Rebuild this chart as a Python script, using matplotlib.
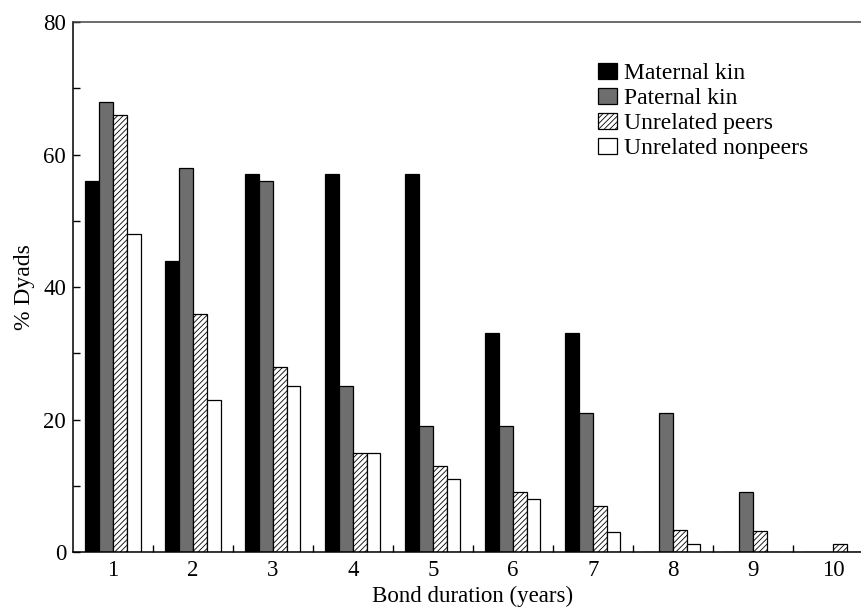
import matplotlib
matplotlib.use('Agg')
import matplotlib.pyplot as plt
import numpy as np

plt.rcParams['font.family'] = ['Liberation Serif', 'DejaVu Serif']
plt.rcParams['hatch.color'] = '#555555'
plt.rcParams['hatch.linewidth'] = 0.6

years = [1, 2, 3, 4, 5, 6, 7, 8, 9, 10]
maternal = [56, 44, 57, 57, 57, 33, 33, 0, 0, 0]
paternal = [68, 58, 56, 25, 19, 19, 21, 21, 9, 0]
peers = [66, 36, 28, 15, 13, 9, 7, 3.3, 3.2, 1.2]
nonpeers = [48, 23, 25, 15, 11, 8, 3, 1.2, 0, 0]

series = [
    ('Maternal kin', maternal, 'black', ''),
    ('Paternal kin', paternal, '#6e6e6e', ''),
    ('Unrelated peers', peers, 'white', '//////'),
    ('Unrelated nonpeers', nonpeers, 'white', ''),
]

fig = plt.figure(figsize=(8.61, 6.13), dpi=100)
# axes runs a little past the right edge, as in the cropped original
ax = fig.add_axes([0.0848, 0.0995, 0.929, 0.8645])

x = np.arange(len(years)) + 1
w = 0.172
for i, (name, vals, col, hatch) in enumerate(series):
    ax.bar(x + (i - 1.5) * w, vals, width=w, color=col, edgecolor='black',
           linewidth=0.9, hatch=hatch, label=name)

ax.set_xlim(0.5, 10.5)
ax.set_ylim(0, 80)
ax.set_yticks([0, 20, 40, 60, 80])
ax.set_yticks([10, 30, 50, 70], minor=True)
ax.set_xticks(x)
ax.set_xticklabels([str(v) for v in years])
ax.set_xticks(np.arange(1.5, 10, 1), minor=True)
ax.tick_params(axis='x', which='major', length=0, pad=6, labelsize=16.5)
ax.tick_params(axis='x', which='minor', direction='in', length=5, width=1)
ax.tick_params(axis='y', which='both', direction='in', length=5, width=1, labelsize=16.5)
ax.tick_params(axis='y', which='major', pad=5)

ax.spines['right'].set_visible(False)
ax.spines['top'].set_color('#444444')
for s in ['left', 'bottom', 'top']:
    ax.spines[s].set_linewidth(1.1)

ax.set_xlabel('Bond duration (years)', fontsize=16.5, labelpad=3)
ax.set_ylabel('% Dyads', fontsize=17, labelpad=6)

ax.legend(loc='upper left', bbox_to_anchor=(0.681, 0.917), bbox_transform=fig.transFigure,
          frameon=False, fontsize=17, handlelength=0.8, handleheight=0.7,
          handletextpad=0.3, labelspacing=0.15, borderpad=0)

fig.savefig('out.png', dpi=100)
